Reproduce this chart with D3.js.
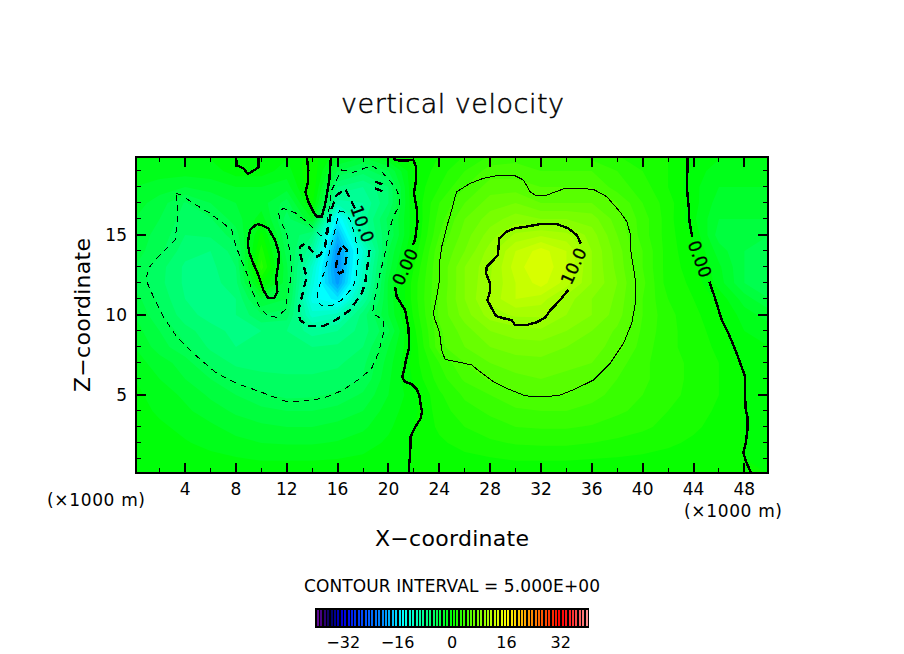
<!DOCTYPE html>
<html lang="en">
<head>
    <meta charset="UTF-8">
    <title>vertical velocity</title>
    <script src="https://d3js.org/d3.v7.min.js"></script>
    <style>
        body { margin: 0; background: #fff; }
        text { font-family: "DejaVu Sans", sans-serif; fill: #000; }
        .contour { fill: none; stroke: #000; shape-rendering: crispEdges; stroke-linejoin: round; }
        .tick line { stroke: #000; shape-rendering: crispEdges; }
    </style>
</head>
<body>
    <svg id="chart" width="904" height="654"></svg>
    <script>
        // x in 1000 m, z in 1000 m
        const xGrid = d3.range(0, 51, 2);
        const zGrid = d3.range(0, 21, 1);

        const wRows = [
            [-0.8,-0.8,-0.8,-0.8,0,0,-0.8,0.5,-1.5,-2.5,-0.5,0.5,1,2,3,3.5,3,3,2.5,2,1.5,1,-0.3,-0.8,-0.8,-0.8],
            [-1.5,-1.5,-1.5,-1.5,-0.5,-0.5,-1.5,1,-4,-5.5,-4,0,1.5,3,4.5,4.5,4,4,4,3,2,1,-0.5,-1.5,-1.5,-1.5],
            [-2,-2.5,-3,-2.5,-2,-2,-2.5,1,-7,-8,-6,0.2,2,4,5.5,5.5,5,5,5,3.5,2.5,1,-0.7,-2,-2,-2],
            [-2.5,-3.5,-5.1,-4,-3,-2.5,-4.5,0.3,-9.5,-9,-6,0,3,5,6.5,7,6,6,6,5,3,1.5,-0.6,-2.5,-2.5,-2.5],
            [-3,-4,-5.5,-5.1,-3.5,-1.5,-5.5,-2,-15.2,-8.5,-4.7,-0.3,3.5,6,7.5,8.5,8,8,7.5,5.5,3.5,1.5,-0.8,-3,-3,-3],
            [-3.5,-4.3,-6,-5.8,-4.5,0.3,-5,-7,-18,-9,-5,-0.2,4,6.5,8.5,10.2,10.8,10.3,8.5,6,3.5,1.5,-0.2,-3.5,-3.5,-4],
            [-3.5,-4.7,-6.6,-7,-5.5,1.5,-4.5,-9,-20,-12,-4,0.3,4.8,7,9.5,12,13.5,12,9,6.5,4,1.5,0.2,-2.5,-4,-4.5],
            [-4,-5.6,-7.2,-7.3,-6,2.5,-3.8,-11.5,-20.5,-11,-3.5,1,5,8,9.8,12.5,14,12,9,6.7,4,1.5,0.5,-1.8,-4,-5],
            [-4.3,-5.7,-7.2,-7.5,-6.3,0.2,-3.6,-12.5,-19.5,-10.5,-2.8,1.5,5,8,10,12,13.5,11.5,9,7,4.3,1.5,0.8,-1.5,-4,-5],
            [-3.5,-5.3,-7,-7.6,-7,-3,-4,-13.5,-15.5,-9,-2.8,1.5,5.2,8,10.3,12,11.5,9.5,8,6.8,4,2,1,-0.3,-2.5,-4],
            [-3,-4.8,-6.6,-7.4,-7,-5.1,-5.5,-11.5,-10.5,-6.5,-3,1.2,5.2,7.5,9.5,10.2,10.2,9,8,6.5,4,2.3,1.3,0.2,-1.5,-2.5],
            [-2.5,-4,-5.6,-6.6,-7.3,-7,-7,-8.5,-8,-6.5,-4.2,0.7,4.8,6.5,8,8.5,8.8,8,7,5.8,3.8,2.3,1.5,0.5,-1,-1.5],
            [-2,-3.5,-4.8,-6.2,-7,-7,-7,-7,-6.8,-6,-3,0.3,4.7,6,7,7.5,7.5,7,6.5,5.5,3.5,2.3,1.5,0.8,-1,-1],
            [-1.5,-2.5,-3.5,-5.3,-6.2,-6.5,-6.5,-6.5,-6.2,-5.3,-2.5,0.5,3,5,6,6.5,6.7,6.3,6,4.5,3.2,2.5,1.7,1,-0.2,-0.8],
            [-1,-2,-3,-4,-5.3,-5.6,-5.8,-5.8,-5.6,-4.9,-2.2,0.2,2.5,4.2,5.2,5.7,6,5.7,5,4,3.2,2.5,1.7,1,0.1,-0.7],
            [-0.7,-1.5,-2.2,-3.2,-4,-4.8,-5.3,-5.2,-4.8,-3.8,-2,-0.4,1.8,3.2,4,4.8,5.1,5,4.3,3.7,3,2.3,1.7,1,0,-0.6],
            [-0.5,-1.2,-1.8,-2.5,-3.2,-3.7,-4,-4,-3.6,-3,-1.5,-0.3,1.5,2.6,3.2,3.8,4,4,3.7,3.2,2.7,2,1.5,0.8,0,-0.5],
            [-0.4,-0.8,-1.3,-1.8,-2.4,-2.8,-3,-3,-2.7,-2.2,-1.2,0,1.2,2,2.6,3,3.1,3.1,2.9,2.5,2.2,1.7,1.2,0.6,0,-0.4],
            [-0.3,-0.5,-0.9,-1.3,-1.7,-2,-2.1,-2.1,-1.9,-1.5,-0.8,0.1,0.8,1.4,1.8,2.1,2.2,2.2,2,1.8,1.5,1.2,0.8,0.4,0,-0.3],
            [-0.2,-0.3,-0.5,-0.7,-0.9,-1.1,-1.1,-1.1,-1,-0.8,-0.4,0.1,0.4,0.7,0.9,1.1,1.1,1.1,1,0.9,0.8,0.6,0.4,0.2,0,-0.1],
            [0,-0.1,-0.1,-0.1,-0.2,-0.2,-0.2,-0.2,-0.2,-0.1,-0.1,0,0.1,0.1,0.2,0.2,0.2,0.2,0.2,0.2,0.1,0.1,0.1,0,0,0]
        ];

        // traced contours as [x, z]
        const zeroTopA = [[8.01,19.9],[8.06,19.37],[8.59,19.16],[8.93,18.81],[9.37,19.01],[9.77,19.22],[9.77,19.9]];
        const zeroTopB = [[13.57,19.9],[13.7,19.06],[13.65,18.22],[13.47,17.7],[13.7,17.08],[14.09,16.45],[14.36,16.14],[14.75,16.14],[15.01,16.87],[15.35,18.43],[15.48,19.9]];
        const zeroOval = [[9.64,15.68],[9.11,15.31],[8.93,14.47],[9.06,13.85],[9.37,13.22],[9.77,12.49],[10.16,11.56],[10.55,11.04],[11,11.04],[11.26,11.45],[11.16,12.29],[11.34,13.22],[11.39,13.85],[11.08,14.68],[10.55,15.41],[10.03,15.62],[9.64,15.68]];
        const zeroMidUpper = [[20.39,19.9],[20.52,19.68],[21.17,19.64],[21.96,19.68],[22.17,19.26],[22.17,18.43],[22.01,17.6],[22.22,16.66],[22.28,15.83],[22.09,14.68],[21.91,14.37]];
        const zeroMidLower = [[20.52,11.77],[20.65,11.14],[21.31,10.31],[21.57,9.2],[21.62,8.43],[21.62,7.93],[21.38,7.18],[21.23,6.56],[21.09,6.1],[21.31,5.81],[21.83,5.68],[22.23,5.35],[22.43,4.99],[22.54,4.37],[22.64,3.95],[22.54,3.54],[22.09,2.98],[21.75,2.39],[21.7,1.14],[21.6,0.51],[21.64,0.1]];
        const zeroRightUpper = [[43.52,19.9],[43.52,19.06],[43.47,18.01],[43.62,16.76],[43.68,15.83],[43.91,14.85]];
        const zeroRightLower = [[45.25,12.08],[45.7,11.03],[46.22,9.68],[46.75,8.85],[47.4,7.6],[47.87,6.56],[48.06,6.14],[48.06,4.89],[48.11,4.06],[48.24,3.64],[48.24,2.81],[48.11,1.98],[47.92,1.39],[48.13,0.83],[48.37,0.41],[48.53,0.1]];
        const plusTen = [[35.13,14.47],[34.81,14.99],[34.15,15.41],[33.23,15.68],[31.93,15.68],[30.88,15.52],[29.96,15.41],[29.3,15.2],[28.73,14.79],[28.6,13.74],[28.26,13.43],[27.73,13.01],[27.68,12.6],[27.99,11.97],[27.99,11.45],[27.78,10.93],[28.13,10.41],[28.47,9.93],[29.04,9.79],[29.7,9.68],[29.96,9.37],[30.88,9.37],[31.67,9.54],[32.32,9.83],[32.72,10.27],[33.5,10.93],[34.15,11.56]];
        const plusFive = [[25.24,17.39],[25.37,17.7],[26.42,18.22],[27.47,18.54],[28.52,18.7],[29.96,18.7],[30.62,18.43],[31.14,17.7],[31.67,17.43],[32.45,17.49],[33.76,17.87],[34.81,17.91],[36.12,17.85],[37.17,17.39],[38.21,16.45],[38.75,15.83],[39.01,15.1],[39.09,13.85],[39.27,13.01],[39.46,11.97],[39.4,10.62],[39.14,9.47],[38.49,8.22],[37.43,6.97],[36.12,5.93],[34.81,5.41],[33.5,4.99],[32.45,4.89],[31.27,4.89],[30.62,4.99],[29.3,5.41],[28.26,5.83],[27.2,6.45],[26.55,6.87],[25.37,7.08],[24.45,7.22],[24.19,7.81],[24.01,8.95],[23.67,9.68],[23.53,10.1],[23.8,11.14],[24.01,12.18],[24.01,13.22],[24.19,14.26],[24.59,15.52],[24.98,16.56],[25.24,17.39]];
        const minusFive = [[3.29,17.6],[3.73,17.49],[4.65,16.97],[5.96,16.35],[7.01,15.72],[7.67,15.31],[7.93,14.47],[8.32,13.64],[8.85,12.6],[9.24,11.56],[9.9,10.41],[10.55,9.93],[11.21,9.85],[11.86,10.31],[12.05,11.14],[12.39,12.6],[12.26,13.85],[12,15.1],[11.47,15.93],[11.34,16.45],[11.73,16.66],[12.65,16.39],[13.57,15.83],[14.62,14.99],[15.06,14.99],[15.22,15.93],[15.35,16.76],[15.54,17.81],[16.32,19.06],[17.24,18.91],[18.68,19.33],[19.47,18.95],[20.52,18.01],[20.86,17.39],[20.86,16.87],[20.39,16.14],[19.99,15.1],[19.73,13.85],[19.34,12.6],[18.95,11.14],[18.74,10.1],[19.6,9.68],[19.6,8.85],[19.21,7.6],[18.68,6.66],[17.77,6.03],[16.45,5.31],[14.88,4.79],[13.04,4.58],[11.99,4.58],[9.9,5.2],[8.06,5.72],[6.49,6.35],[4.65,7.6],[3.34,8.64],[2.29,9.89],[1.51,11.14],[0.93,12.18],[1.11,12.91],[1.77,13.53],[3.21,14.68],[3.47,16.35],[3.29,17.6]];
        const minusTen = [[17.37,16.66],[17.11,17.07],[16.59,17.87],[15.93,17.49],[15.54,16.66],[15.27,15.51],[15.01,14.26],[14.62,13.74],[14.36,13.64],[13.49,14.47],[13.04,14.26],[13.1,13.64],[13.57,12.39],[13.31,11.56],[12.94,10.31],[13.04,9.68],[13.7,9.31],[14.88,9.31],[15.93,9.72],[16.98,10.31],[17.9,11.35],[18.16,11.97],[18.42,13.43],[18.5,14.06]];
        const minusTenSmallA = [[18.95,18.33],[19.52,18.16]];
        const minusTenSmallB = [[18.95,17.91],[19.65,17.7]];
        const minusFifteen = [[16.14,16.51],[16.59,16.41],[16.98,15.93],[17.37,14.99],[17.63,13.64],[17.5,12.6],[17.24,11.76],[16.32,10.93],[15.54,10.56],[14.75,10.56],[14.36,10.93],[14.49,11.66],[15.01,12.81],[15.41,14.06],[15.8,15.31],[16.14,16.51]];
        const minusTwenty = [[16.4,14.33],[16.72,14.06],[16.67,13.33],[16.4,12.7],[16.14,12.6],[15.85,12.8],[15.99,13.64],[16.25,14.16],[16.4,14.33]];

        const xMajor = d3.range(4, 49, 4);
        const xMinor = d3.range(2, 50, 4);
        const zMajor = [5, 10, 15];
        const zMinor = d3.range(1, 20).filter(d => d % 5 !== 0);
        const barTicks = [-32, -16, 0, 16, 32];

        // colour table
        const colorStops = [-40, -38, -36, -32, -26, -20, -14.5, 0, 16, 24, 32, 36, 40];
        const colorValues = ["#6a0d9e", "#3b0078", "#000060", "#0000e6", "#0050ff", "#0090ff", "#00ffff", "#00ff00", "#ffff00", "#ff8000", "#ff0000", "#ff3a3a", "#ff9a9a"];

        const svg = d3.select("#chart");
        const x = d3.scaleLinear().domain([0.14, 49.86]).range([136, 768]);
        const y = d3.scaleLinear().domain([0.12, 19.87]).range([473, 157]);
        const color = d3.scaleLinear().domain(colorStops).range(colorValues);

        svg.append("clipPath").attr("id", "plot-clip")
            .append("rect")
            .attr("x", 136).attr("y", 157).attr("width", 632).attr("height", 316);

        // shaded field, one band per unit
        const flat = wRows.slice().reverse().flat();
        const thresholds = d3.range(-25, 17, 1);
        const bands = d3.contours().size([xGrid.length, zGrid.length]).thresholds(thresholds)(flat);
        const gridPath = d3.geoPath(d3.geoTransform({
            point: function (cx, cy) {
                this.stream.point(x((cx - 0.5) * 2), y(cy - 0.5));
            }
        }));

        const plot = svg.append("g").attr("clip-path", "url(#plot-clip)");
        plot.selectAll("path.band")
            .data(bands)
            .enter()
            .append("path")
            .attr("class", "band")
            .attr("d", gridPath)
            .attr("fill", d => color(d.value + 0.5));

        // contour lines
        const contourLine = d3.line().x(d => x(d[0])).y(d => y(d[1]));
        function drawContour(points, width, dash) {
            plot.append("path")
                .datum(points)
                .attr("class", "contour")
                .attr("d", contourLine)
                .attr("stroke-width", width)
                .attr("stroke-dasharray", dash);
        }

        [zeroTopA, zeroTopB, zeroOval, zeroMidUpper, zeroMidLower, zeroRightUpper, zeroRightLower, plusTen]
            .forEach(c => drawContour(c, 2.4, null));
        drawContour(plusFive, 1, null);
        drawContour(minusFive, 1, "6 5");
        drawContour(minusFifteen, 1, "6 5");
        [minusTen, minusTenSmallA, minusTenSmallB, minusTwenty].forEach(c => drawContour(c, 2.4, "8 5"));

        // contour labels
        const contourLabels = ["10.0", "0.00", "10.0", "0.00"];
        const labelX = [17.95, 21.3, 34.55, 44.5];
        const labelZ = [15.7, 13.0, 13.05, 13.5];
        const labelAngle = [70, -65, -65, 70];
        contourLabels.forEach((t, i) => {
            svg.append("text")
                .attr("transform", `translate(${x(labelX[i])},${y(labelZ[i])}) rotate(${labelAngle[i]})`)
                .attr("text-anchor", "middle")
                .attr("dy", "0.36em")
                .attr("font-size", 17)
                .attr("stroke", "#000")
                .attr("stroke-width", 0.3)
                .attr("textLength", 38)
                .text(t);
        });

        // axes, ticks point inwards on all four sides
        function drawTicks(axis, pos, values, size, width, labelled) {
            const g = svg.append("g")
                .attr("transform", pos)
                .call(axis.tickValues(values).tickSize(size).offset(0).tickFormat(labelled ? d3.format("d") : ""));
            g.select(".domain").remove();
            g.selectAll("line").attr("stroke-width", width);
            return g;
        }
        const atBottom = "translate(0,473)", atTop = "translate(0,157)", atLeft = "translate(136,0)", atRight = "translate(768,0)";
        drawTicks(d3.axisBottom(x), atBottom, xMinor, -5, 1, false);
        drawTicks(d3.axisTop(x), atTop, xMinor, -5, 1, false);
        drawTicks(d3.axisTop(x), atTop, xMajor, -10, 2, false);
        drawTicks(d3.axisRight(y), atRight, zMinor, -5, 1, false);
        drawTicks(d3.axisRight(y), atRight, zMajor, -10, 2, false);
        drawTicks(d3.axisLeft(y), atLeft, zMinor, -5, 1, false);

        const xLabels = drawTicks(d3.axisBottom(x), atBottom, xMajor, -10, 2, true);
        xLabels.selectAll("text").attr("y", 22).attr("dy", 0).attr("font-size", 17).style("font-family", '"DejaVu Sans"');
        const yLabels = drawTicks(d3.axisLeft(y), atLeft, zMajor, -10, 2, true);
        yLabels.selectAll("text").attr("x", -9).attr("dy", "0.36em").attr("font-size", 17).style("font-family", '"DejaVu Sans"');

        svg.append("rect")
            .attr("x", 136).attr("y", 157).attr("width", 632).attr("height", 316)
            .attr("fill", "none").attr("stroke", "#000").attr("stroke-width", 2)
            .attr("shape-rendering", "crispEdges");

        // titles
        function addText(str, px, py, size, length, rotate) {
            const t = svg.append("text")
                .attr("text-anchor", "middle")
                .attr("font-size", size)
                .attr("textLength", length)
                .text(str);
            t.attr("transform", `translate(${px},${py})` + (rotate ? ` rotate(${rotate})` : ""));
            return t;
        }
        addText("vertical velocity", 452.5, 113, 27, 223)
            .attr("font-weight", 200)
            .attr("stroke", "#000")
            .attr("stroke-width", 0.5);
        addText("X\u2212coordinate", 452, 546, 22, 154);
        addText("Z\u2212coordinate", 90, 315, 22, 154, -90);
        addText("(\u00d71000 m)", 96, 506, 17, 98);
        addText("(\u00d71000 m)", 733, 517, 17, 98);
        addText("CONTOUR INTERVAL = 5.000E+00", 452, 592, 17, 296);

        // colour bar
        const barLevels = d3.range(-40, 40, 1);
        const barX = d3.scaleLinear().domain([-40, 40]).range([316, 588]);
        svg.append("rect")
            .attr("x", 315).attr("y", 608).attr("width", 274).attr("height", 20)
            .attr("fill", "#000");
        svg.selectAll("rect.level")
            .data(barLevels)
            .enter()
            .append("rect")
            .attr("class", "level")
            .attr("x", d => Math.round(barX(d)) + 1)
            .attr("y", 610)
            .attr("width", 2)
            .attr("height", 16)
            .attr("shape-rendering", "crispEdges")
            .attr("fill", d => color(d + 0.5));
        svg.selectAll("text.bar-tick")
            .data(barTicks)
            .enter()
            .append("text")
            .attr("class", "bar-tick")
            .attr("x", d => barX(d))
            .attr("y", 648)
            .attr("text-anchor", "middle")
            .attr("font-size", 16)
            .text(d => (d < 0 ? "\u2212" + Math.abs(d) : d));
    </script>
</body>
</html>
